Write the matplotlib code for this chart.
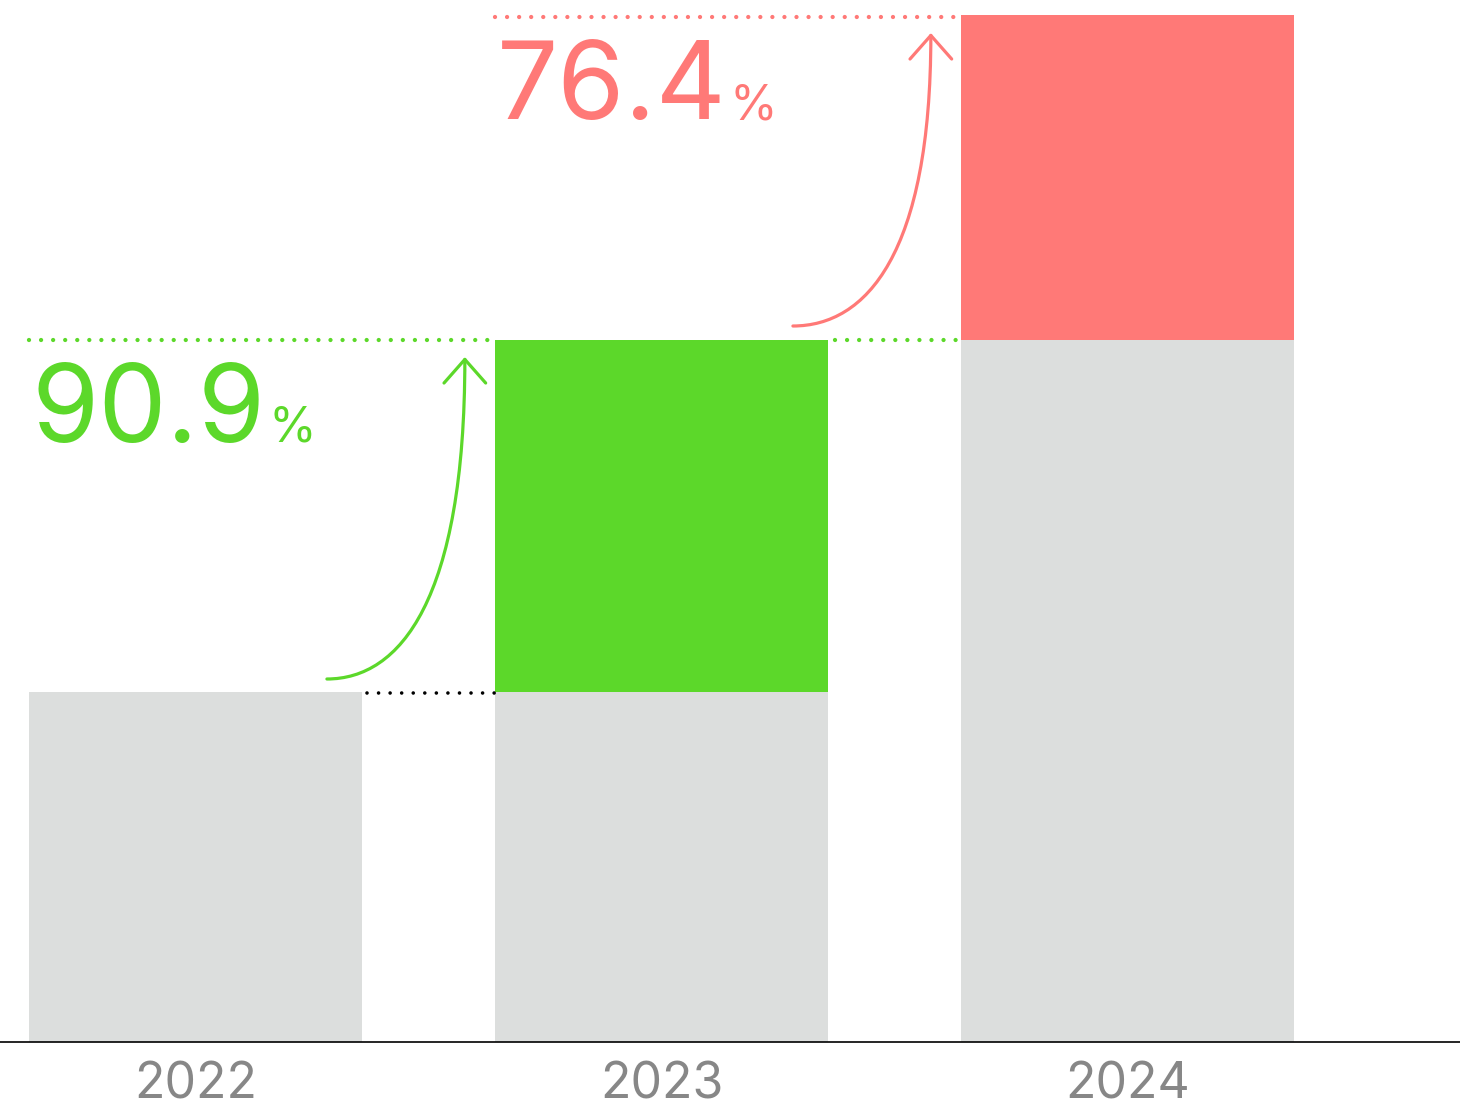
import numpy as np
import matplotlib.pyplot as plt
from matplotlib.path import Path
from matplotlib.patches import FancyArrowPatch

plt.rcParams['font.family'] = ['Inter', 'DejaVu Sans']

# bar totals per year and growth labels
years = ['2022', '2023', '2024']
totals = [350, 702, 1027]
growth_labels = ['90.9', '76.4']

gray = '#DCDEDD'
green = '#5CD82A'
red = '#FF7977'
year_color = '#878787'

x = np.arange(len(years))
w = 0.715

fig = plt.figure(figsize=(14.6, 11.13), dpi=100)
ax = fig.add_axes([0, 71 / 1113, 1, 1042 / 1113])

# gray base: previous year's total, coloured part: the increase
base = [totals[0], totals[0], totals[1]]
ax.bar(x, base, width=w, color=gray, zorder=2)
ax.bar(x[1], totals[1] - totals[0], bottom=totals[0], width=w, color=green, zorder=2)
ax.bar(x[2], totals[2] - totals[1], bottom=totals[1], width=w, color=red, zorder=2)

ax.set_xlim(-195.5 / 466, (1460 - 195.5) / 466)
ax.set_ylim(0, 1042)

# dotted guide lines
dots = dict(linestyle=(0, (0.001, 2.8)), dash_capstyle='round', lw=3.1, zorder=3)
ax.plot([x[0] - w / 2, x[1] - w / 2], [totals[1], totals[1]], color=green, **dots)
ax.plot([x[1] + w / 2 + 0.015, x[2] - w / 2], [totals[1], totals[1]], color=green, **dots)
ax.plot([x[1] - w / 2, x[2] - w / 2], [totals[2] - 2, totals[2] - 2], color=red, **dots)
ax.plot([x[0] + w / 2 + 0.01, x[1] - w / 2], [totals[0] - 1, totals[0] - 1], color='black',
        **dict(dots, lw=2.6, linestyle=(0, (0.001, 3.2))))


def growth_arrow(x0, y0, x1, y1, color):
    verts = [(x0, y0), (x0 + 0.53 * (x1 - x0), y0), (x1, y0 + 0.245 * (y1 - y0)), (x1, y1)]
    path = Path(verts, [Path.MOVETO, Path.CURVE4, Path.CURVE4, Path.CURVE4])
    arr = FancyArrowPatch(path=path, arrowstyle='->,head_length=17,head_width=15',
                          color=color, lw=2.3, zorder=4)
    ax.add_patch(arr)


growth_arrow(0.282, totals[0] + 13, 0.578, totals[1] - 17, green)
growth_arrow(1.282, totals[1] + 14, 1.578, totals[2] - 18, red)

# growth percentages
for lx, ly, label, color in [(-0.352, 600, growth_labels[0], green),
                             (0.646, 923, growth_labels[1], red)]:
    t = ax.text(lx, ly, label, fontsize=78, color=color, va='baseline', ha='left')
    ax.annotate('%', xy=(1, ly), xycoords=(t, 'data'), xytext=(3, 0),
                textcoords='offset pixels', fontsize=35, color=color, va='baseline', ha='left')

ax.set_xticks(x)
ax.set_xticklabels(years, fontsize=36, color=year_color)
ax.tick_params(axis='x', length=0, pad=14)
ax.set_yticks([])
for s in ['top', 'left', 'right']:
    ax.spines[s].set_visible(False)
ax.spines['bottom'].set_linewidth(1.2)
ax.spines['bottom'].set_zorder(5)

fig.savefig('out.png', dpi=100, facecolor='white')
